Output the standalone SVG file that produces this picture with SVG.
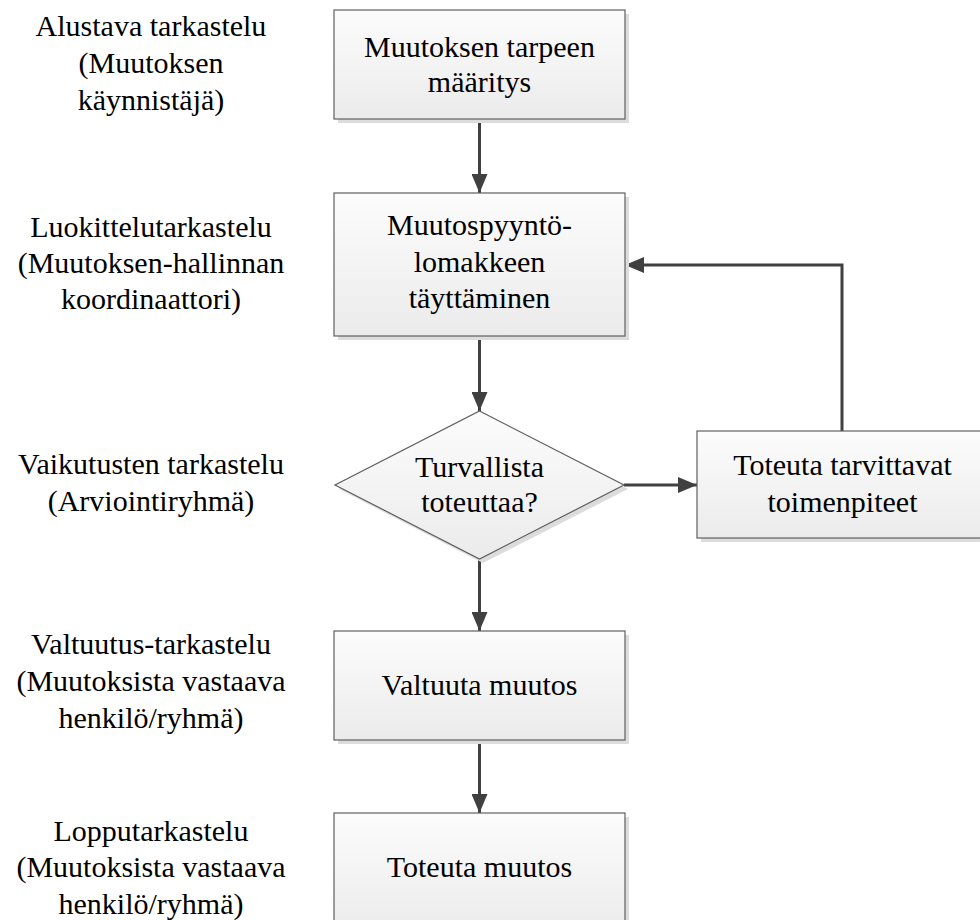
<svg xmlns="http://www.w3.org/2000/svg" width="980" height="920" viewBox="0 0 980 920">
  <defs>
    <linearGradient id="fillGrad" x1="0" y1="0" x2="0" y2="1">
      <stop offset="0" stop-color="#fcfcfc"/>
      <stop offset="1" stop-color="#ebebeb"/>
    </linearGradient>
    <marker id="arrow" markerUnits="userSpaceOnUse" markerWidth="20" markerHeight="16" refX="19" refY="8" orient="auto">
      <path d="M0,0 L19,8 L0,16 Z" fill="#404040"/>
    </marker>
    <style>
      .shape { fill: url(#fillGrad); stroke: #5f5f5f; stroke-width: 1.2; }
      .shadow { fill: #dcdcdc; }
      .label { font-family: "Liberation Serif", "Times New Roman", serif; font-size: 30px; fill: #000; text-anchor: middle; }
      .conn { fill: none; stroke: #404040; stroke-width: 3; marker-end: url(#arrow); }
    </style>
  </defs>
  <rect width="980" height="920" fill="#ffffff"/>

  <!-- Role labels on the left -->
  <g id="roles" class="label">
    <text x="151" y="36">Alustava tarkastelu</text>
    <text x="151" y="73">(Muutoksen</text>
    <text x="151" y="110">käynnistäjä)</text>
    <text x="151" y="237">Luokittelutarkastelu</text>
    <text x="151" y="273">(Muutoksen-hallinnan</text>
    <text x="151" y="309">koordinaattori)</text>
    <text x="151" y="474">Vaikutusten tarkastelu</text>
    <text x="151" y="511">(Arviointiryhmä)</text>
    <text x="151" y="654">Valtuutus-tarkastelu</text>
    <text x="151" y="691">(Muutoksista vastaava</text>
    <text x="151" y="728">henkilö/ryhmä)</text>
    <text x="151" y="841">Lopputarkastelu</text>
    <text x="151" y="877">(Muutoksista vastaava</text>
    <text x="151" y="914">henkilö/ryhmä)</text>
  </g>

  <!-- Connectors -->
  <g id="connectors">
    <path class="conn" d="M479.5,119 L479.5,193"/>
    <path class="conn" d="M479.5,336 L479.5,411"/>
    <path class="conn" d="M479.5,559 L479.5,631"/>
    <path class="conn" d="M479.5,740 L479.5,813"/>
    <path class="conn" d="M624,485 L697,485"/>
    <path class="conn" d="M842,431 L842,265 L625,265"/>
  </g>

  <g id="n1">
    <rect class="shadow" x="338" y="14" width="291" height="109"/>
    <rect class="shape" x="334" y="10" width="291" height="109"/>
    <text class="label" x="479.5" y="57">Muutoksen tarpeen</text>
    <text class="label" x="479.5" y="92">määritys</text>
  </g>

  <g id="n2">
    <rect class="shadow" x="338" y="197" width="291" height="143"/>
    <rect class="shape" x="334" y="193" width="291" height="143"/>
    <text class="label" x="479.5" y="235">Muutospyyntö-</text>
    <text class="label" x="479.5" y="272">lomakkeen</text>
    <text class="label" x="479.5" y="308">täyttäminen</text>
  </g>

  <g id="n3">
    <polygon class="shadow" points="483,415 628,489 483,563 339,489"/>
    <polygon class="shape" points="479.5,411 624,485 479.5,559 335,485"/>
    <text class="label" x="479.5" y="477">Turvallista</text>
    <text class="label" x="479.5" y="512">toteuttaa?</text>
  </g>

  <g id="n4">
    <rect class="shadow" x="701" y="435" width="291" height="107"/>
    <rect class="shape" x="697" y="431" width="291" height="107"/>
    <text class="label" x="842.5" y="475">Toteuta tarvittavat</text>
    <text class="label" x="842.5" y="512">toimenpiteet</text>
  </g>

  <g id="n5">
    <rect class="shadow" x="338" y="635" width="291" height="109"/>
    <rect class="shape" x="334" y="631" width="291" height="109"/>
    <text class="label" x="479.5" y="695">Valtuuta muutos</text>
  </g>

  <g id="n6">
    <rect class="shadow" x="338" y="817" width="291" height="120"/>
    <rect class="shape" x="334" y="813" width="291" height="120"/>
    <text class="label" x="479.5" y="877">Toteuta muutos</text>
  </g>
</svg>
